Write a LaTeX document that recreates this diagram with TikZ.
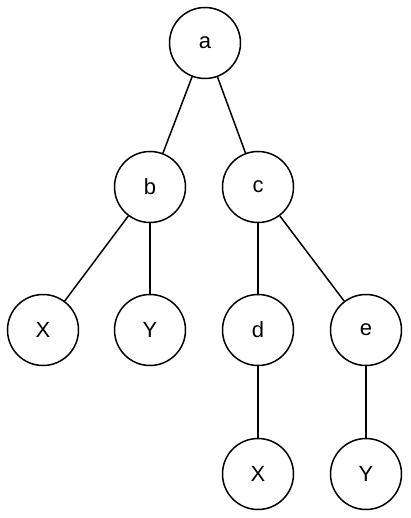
\documentclass[tikz,border=0pt]{standalone}
\usepackage{fontspec}
\setmainfont{Liberation Sans}
\begin{document}
\begin{tikzpicture}[x=1pt,y=-1pt,
  nd/.style={draw,circle,line width=1.5pt,minimum size=71pt,inner sep=0pt,font=\fontsize{22}{24}\selectfont},
  ed/.style={line width=1.5pt}]
\useasboundingbox (0,0) rectangle (410,518);
\node[nd] (a) at (205,43) {a};
\node[nd] (b) at (150,187) {b};
\node[nd] (c) at (258,187) {c};
\node[nd] (x1) at (43,330) {X};
\node[nd] (y1) at (150,330) {Y};
\node[nd] (d) at (258,330) {d};
\node[nd] (e) at (366,330) {e};
\node[nd] (x2) at (258,474) {X};
\node[nd] (y2) at (366,474) {Y};
\draw[ed] (a) -- (b);
\draw[ed] (a) -- (c);
\draw[ed] (b) -- (x1);
\draw[ed] (b) -- (y1);
\draw[ed] (c) -- (d);
\draw[ed] (c) -- (e);
\draw[ed] (d) -- (x2);
\draw[ed] (e) -- (y2);
\end{tikzpicture}
\end{document}
